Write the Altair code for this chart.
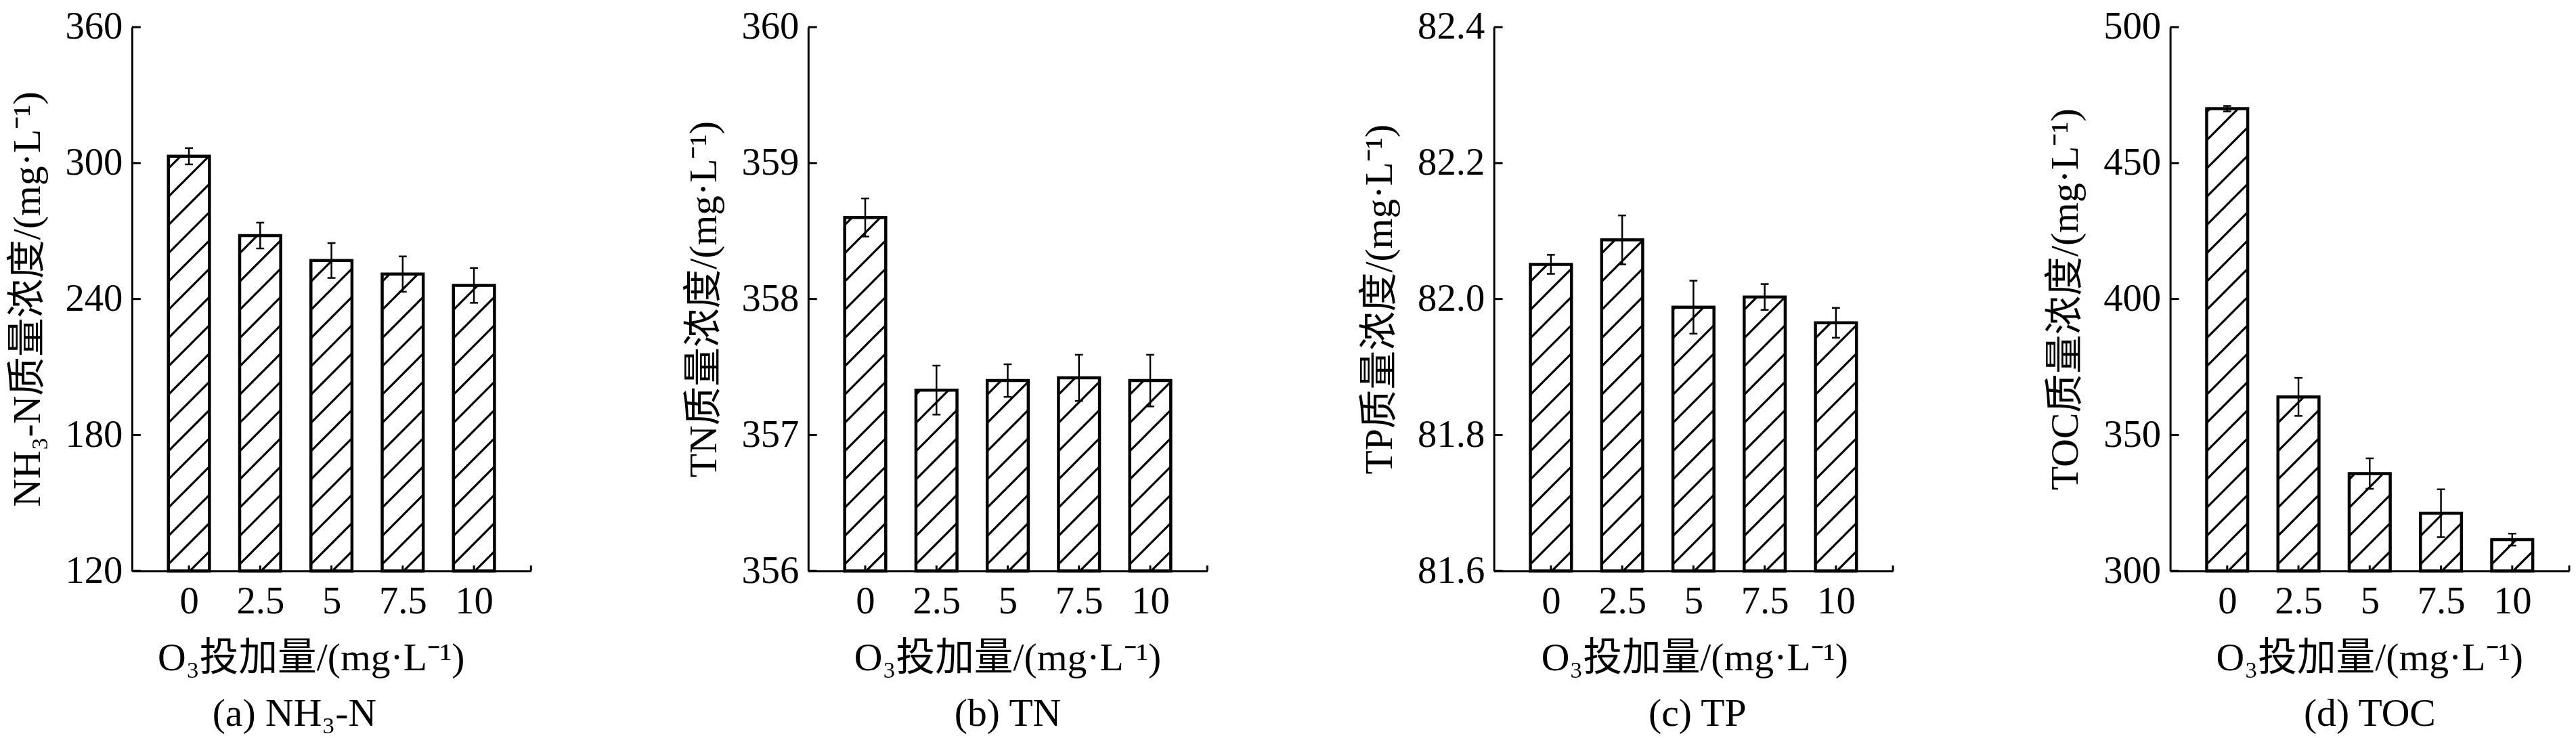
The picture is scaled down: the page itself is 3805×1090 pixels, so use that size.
import altair as alt
import pandas as pd
import math

# ---------------- data ----------------
doses = [0, 2.5, 5, 7.5, 10]

nh3_mean = [303.0, 268.0, 257.0, 251.0, 246.0]
nh3_err = [3.6, 5.7, 7.7, 7.8, 7.7]

tn_mean = [358.60, 357.33, 357.40, 357.42, 357.40]
tn_err = [0.14, 0.18, 0.12, 0.17, 0.19]

tp_mean = [82.051, 82.087, 81.988, 82.003, 81.965]
tp_err = [0.014, 0.036, 0.039, 0.019, 0.022]

toc_mean = [470.0, 364.0, 335.8, 321.2, 311.5]
toc_err = [1.0, 7.0, 5.6, 8.8, 2.2]

nh3_ticks = [120, 180, 240, 300, 360]
tn_ticks = [356, 357, 358, 359, 360]
tp_ticks = [81.6, 81.8, 82.0, 82.2, 82.4]
toc_ticks = [300, 350, 400, 450, 500]

# ---------------- layout / style ----------------
W, H = 593, 808
XDOM = [-2, 12]
HW = 0.72          # half bar width (x units)
CAP = 0.14         # half cap width (x units)
HATCH_GAP = 42     # px, vertical spacing of hatch lines
HATCH_PHASE = 10
FONT = "Liberation Serif, Noto Sans CJK SC"
XTITLE = "O₃投加量/(mg·L⁻¹)"


def hatch_frame(mean, ymin, ymax):
    px_x = W / (XDOM[1] - XDOM[0])
    px_y = H / (ymax - ymin)
    rows = []
    for d, v in zip(doses, mean):
        x1 = d - HW
        wpx = 2 * HW * px_x
        hpx = (v - ymin) * px_y
        k0 = -int(math.ceil(wpx / HATCH_GAP)) - 1
        c = HATCH_PHASE + k0 * HATCH_GAP
        while c < hpx:
            t0 = max(0.0, -c)
            t1 = min(wpx, hpx - c)
            if t1 > t0 + 0.5:
                rows.append({
                    "xa": x1 + t0 / px_x, "ya": ymin + (c + t0) / px_y,
                    "xb": x1 + t1 / px_x, "yb": ymin + (c + t1) / px_y,
                })
            c += HATCH_GAP
    return pd.DataFrame(rows)


def panel(mean, err, ticks, yfmt, ytitle, caption, xtitle_x, cap_dx):
    ymin, ymax = ticks[0], ticks[-1]
    df = pd.DataFrame({"dose": doses, "value": mean, "err": err})
    df["lo"] = df["value"] - df["err"]
    df["hi"] = df["value"] + df["err"]
    df["x1"] = df["dose"] - HW
    df["x2"] = df["dose"] + HW
    df["cl"] = df["dose"] - CAP
    df["cr"] = df["dose"] + CAP
    df["base"] = ymin

    xs = alt.Scale(domain=XDOM, nice=False, zero=False)
    ys = alt.Scale(domain=[ymin, ymax], nice=False, zero=False)

    xaxis = alt.Axis(values=doses, labelExpr="datum.value", title=XTITLE,
                     titleX=xtitle_x, titleY=130, titleBaseline="middle",
                     titleAlign="center", labelPadding=18)
    yaxis = alt.Axis(values=ticks, format=yfmt, title=ytitle, labelPadding=14,
                     titlePadding=26)

    bars = alt.Chart(df).mark_bar(fill="white", stroke="black", strokeWidth=4.5).encode(
        x=alt.X("x1:Q", scale=xs, axis=xaxis),
        x2="x2:Q",
        y=alt.Y("value:Q", scale=ys, axis=yaxis),
        y2="base:Q",
    )
    hatch = alt.Chart(hatch_frame(mean, ymin, ymax)).mark_rule(
        color="black", strokeWidth=3.2).encode(
        x=alt.X("xa:Q", scale=xs), x2="xb:Q",
        y=alt.Y("ya:Q", scale=ys), y2="yb:Q",
    )
    xt = alt.Chart(pd.DataFrame({"t": doses + [XDOM[1]]})).mark_rule(
        color="black", strokeWidth=3).encode(
        x=alt.X("t:Q", scale=xs), y=alt.value(H), y2=alt.value(H - 8),
    )
    yt = alt.Chart(pd.DataFrame({"t": ticks})).mark_rule(
        color="black", strokeWidth=3).encode(
        y=alt.Y("t:Q", scale=ys), x=alt.value(0), x2=alt.value(13),
    )
    ebar = alt.Chart(df).mark_rule(color="black", strokeWidth=2.5).encode(
        x=alt.X("dose:Q", scale=xs), y=alt.Y("lo:Q", scale=ys), y2="hi:Q",
    )
    cap_hi = alt.Chart(df).mark_rule(color="black", strokeWidth=2.5).encode(
        x=alt.X("cl:Q", scale=xs), x2="cr:Q", y=alt.Y("hi:Q", scale=ys),
    )
    cap_lo = alt.Chart(df).mark_rule(color="black", strokeWidth=2.5).encode(
        x=alt.X("cl:Q", scale=xs), x2="cr:Q", y=alt.Y("lo:Q", scale=ys),
    )
    return alt.layer(bars, hatch, xt, yt, ebar, cap_hi, cap_lo).properties(
        width=W, height=H,
        title=alt.TitleParams(caption, orient="bottom", anchor="middle", dx=cap_dx,
                              offset=25, font=FONT, fontSize=58,
                              fontWeight="normal", color="black"),
    )


pa = panel(nh3_mean, nh3_err, nh3_ticks, "d", "NH₃-N质量浓度/(mg·L⁻¹)",
           "(a) NH₃-N", 266, -55)
pb = panel(tn_mean, tn_err, tn_ticks, "d", "TN质量浓度/(mg·L⁻¹)",
           "(b) TN", 296, 0)
pc = panel(tp_mean, tp_err, tp_ticks, ".1f", "TP质量浓度/(mg·L⁻¹)",
           "(c) TP", 298, 6)
pd_ = panel(toc_mean, toc_err, toc_ticks, "d", "TOC质量浓度/(mg·L⁻¹)",
            "(d) TOC", 296, 0)

chart = alt.hconcat(pa, pb, pc, pd_, spacing=226).properties(
    padding={"left": 4, "top": 0, "right": 0, "bottom": 0}
).configure_view(stroke=None).configure_axis(
    grid=False, ticks=False, tickSize=0,
    domainColor="black", domainWidth=3,
    labelFont=FONT, labelFontSize=57, labelColor="black",
    titleFont=FONT, titleFontSize=58, titleFontWeight="normal", titleColor="black",
)

chart.save("out.html", embed_options={"renderer": "svg", "actions": False})
